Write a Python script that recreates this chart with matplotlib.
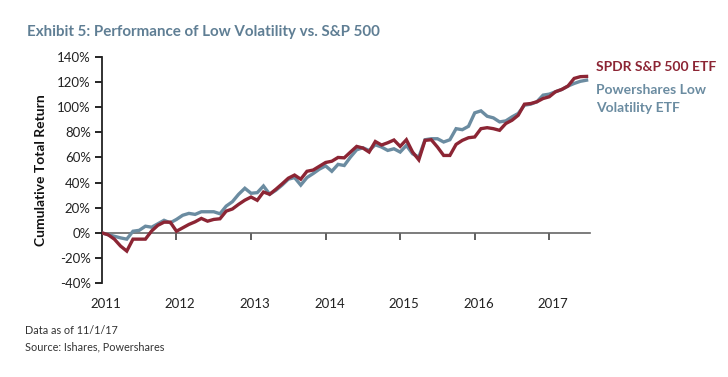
import matplotlib
matplotlib.use("Agg")
import matplotlib.pyplot as plt

plt.rcParams['font.family'] = ['Lato', 'DejaVu Sans']

# Monthly cumulative total return (%), May 2011 - Nov 2017
spdr = [0, -1.5, -5, -10.5, -14.5, -5, -5, -5, 1.5, 6, 8.5, 8.5,
        1.3, 4, 6.7, 8.8, 11.5, 9.3, 10.7, 11.2, 17.3, 19, 22.7, 26,
        28.5, 25.9, 32.5, 30.7, 34.7, 39, 43.5, 46, 42.7, 49, 50, 53,
        56, 57, 60, 59.7, 64.3, 68.8, 67.5, 64.3, 72.7, 69.9, 71.7, 73.9,
        68.8, 74.1, 64.3, 58.1, 73.6, 74.1, 68.3, 61.6, 61.6, 70.4, 73.6, 75.7,
        76.3, 82.9, 83.7, 82.9, 81.6, 87, 89.6, 93.6, 102.4, 102.9, 104.3, 106.9,
        108.3, 112.3, 114.1, 116.8, 122.9, 124.3, 124.5]
splv = [0, -1.5, -2.7, -4, -5, 1.3, 2, 5.3, 4.5, 7.2, 10, 8,
        10.7, 14, 15.5, 14.7, 16.8, 16.8, 16.8, 15.2, 21.3, 24.8, 30.7, 35.5,
        31.5, 32, 37.3, 30.7, 33.9, 38, 42.7, 44, 38, 44, 47.2, 50.7,
        53.3, 49, 54.5, 53.6, 60.3, 66.1, 67.7, 65.6, 70.1, 68.3, 65.6, 66.9,
        64.3, 69.6, 62.9, 60.3, 74.1, 74.9, 74.9, 72.3, 74.1, 82.9, 82.1, 84.8,
        95.5, 97.1, 92.8, 91.5, 88.3, 89.1, 92.3, 95, 101.6, 102.4, 104.3, 109.6,
        110.4, 112.3, 114.1, 116.8, 118.9, 120.6, 121.5]
year_labels = ['2011', '2012', '2013', '2014', '2015', '2016', '2017']
y_ticks = [-40, -20, 0, 20, 40, 60, 80, 100, 120, 140]

red = '#8C2534'
blue = '#6B8CA1'
title_c = '#5F7E94'

fig = plt.figure(figsize=(7.28, 3.77), dpi=100)
ax = fig.add_axes([0.140, 0.249, 0.670, 0.600])

x = list(range(len(spdr)))
ax.plot(x, splv, color=blue, lw=2.4, solid_joinstyle='miter', zorder=3)
ax.plot(x, spdr, color=red, lw=2.4, solid_joinstyle='miter', zorder=4)

ax.set_xlim(0, len(spdr) - 0.5)
ax.set_ylim(-40, 140)
ax.set_yticks(y_ticks)
ax.set_yticklabels([f'{v}%' for v in y_ticks], fontsize=9.5, color='#222222')
ax.tick_params(axis='y', direction='out', length=5, width=1.2, pad=3)

for s in ['top', 'right', 'bottom']:
    ax.spines[s].set_visible(False)
ax.spines['left'].set_linewidth(1.3)
ax.spines['left'].set_color('#222222')

# year labels along the bottom
year_pos = [12 * i + 0.6 for i in range(len(year_labels))]
ax.set_xticks(year_pos)
ax.set_xticklabels(year_labels, fontsize=9.5, color='#222222')
ax.tick_params(axis='x', length=0, pad=11)

# axis line at zero with downward ticks
sec = ax.secondary_xaxis(40 / 180)
sec.set_xticks([12 * i for i in range(1, len(year_labels))])
sec.set_xticklabels([])
sec.tick_params(axis='x', direction='out', length=5, width=1.2, color='#444444')
sec.spines['bottom'].set_color('#666666')
sec.spines['bottom'].set_linewidth(1.2)

ax.set_ylabel('Cumulative Total Return', fontsize=10, fontweight='bold',
              color='#111111', labelpad=7)

fig.text(27 / 728, 1 - 32 / 377, 'Exhibit 5: Performance of Low Volatility vs. S&P 500',
         fontsize=10.9, fontweight='bold', color=title_c, va='center', ha='left')

fig.text(596 / 728, 1 - 67 / 377, 'SPDR S&P 500 ETF', fontsize=10,
         fontweight='bold', color=red, va='center', ha='left')
fig.text(596 / 728, 1 - 90 / 377, 'Powershares Low', fontsize=10,
         fontweight='bold', color=blue, va='center', ha='left')
fig.text(596 / 728, 1 - 108 / 377, 'Volatility ETF', fontsize=10,
         fontweight='bold', color=blue, va='center', ha='left')

fig.text(25 / 728, 1 - 330 / 377, 'Data as of 11/1/17', fontsize=7.8,
         color='#333333', va='center', ha='left')
fig.text(25 / 728, 1 - 347 / 377, 'Source: Ishares, Powershares', fontsize=7.8,
         color='#333333', va='center', ha='left')

fig.savefig('out.png', dpi=100, facecolor='white')
